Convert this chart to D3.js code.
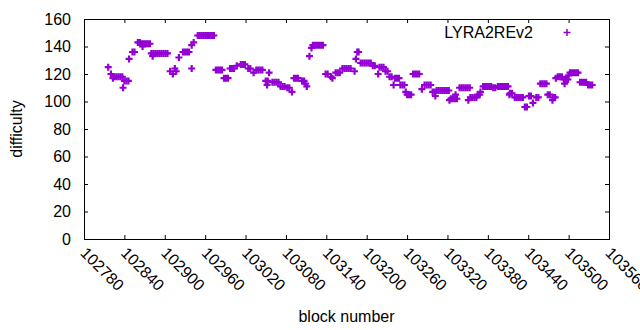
<!DOCTYPE html>
<html>
<head>
<meta charset="utf-8">
<script src="https://d3js.org/d3.v7.min.js"></script>
<style>
  body { margin: 0; background: #fff; }
  text { font-family: "Liberation Sans", Arial, sans-serif; font-size: 16px; fill: #000; }
</style>
</head>
<body>
<div id="my_dataviz"></div>
<script>

// block numbers and difficulty
var blocks = [
  102816, 102820, 102823, 102825, 102828, 102831, 102834, 102837, 102838, 102840,
  102843, 102846, 102847, 102852, 102855, 102860, 102863, 102866, 102867, 102869,
  102872, 102875, 102878, 102880, 102882, 102883, 102886, 102889, 102892, 102895,
  102898, 102901, 102904, 102908, 102912, 102915, 102917, 102921, 102927, 102930,
  102933, 102936, 102940, 102940, 102943, 102949, 102952, 102955, 102958, 102961,
  102964, 102967, 102970, 102973, 102976, 102979, 102982, 102985, 102988, 102991,
  102994, 102997, 103000, 103003, 103007, 103013, 103016, 103019, 103024, 103027,
  103032, 103036, 103039, 103042, 103045, 103050, 103052, 103053, 103055, 103060,
  103063, 103066, 103069, 103072, 103075, 103078, 103082, 103085, 103089, 103092,
  103095, 103098, 103104, 103107, 103109, 103111, 103115, 103118, 103120, 103123,
  103126, 103129, 103132, 103135, 103139, 103142, 103147, 103149, 103154, 103157,
  103160, 103164, 103167, 103170, 103173, 103176, 103182, 103184, 103186, 103188,
  103191, 103194, 103197, 103200, 103203, 103206, 103209, 103212, 103217, 103219,
  103222, 103225, 103228, 103231, 103234, 103237, 103240, 103242, 103245, 103248,
  103250, 103253, 103256, 103258, 103260, 103263, 103266, 103269, 103272, 103275,
  103278, 103282, 103286, 103289, 103292, 103295, 103298, 103301, 103302, 103304,
  103307, 103310, 103313, 103316, 103319, 103322, 103323, 103325, 103328, 103331,
  103332, 103334, 103338, 103341, 103344, 103347, 103350, 103351, 103353, 103354,
  103357, 103360, 103363, 103365, 103368, 103369, 103373, 103376, 103379, 103382,
  103385, 103388, 103391, 103395, 103398, 103401, 103404, 103407, 103410, 103412,
  103413, 103416, 103420, 103423, 103426, 103429, 103432, 103435, 103438, 103441,
  103444, 103447, 103452, 103455, 103458, 103461, 103464, 103467, 103469, 103472,
  103476, 103477, 103480, 103481, 103484, 103487, 103490, 103493, 103494, 103496,
  103499, 103500, 103502, 103505, 103508, 103511, 103514, 103517, 103520, 103523,
  103526, 103529, 103532, 103535
];
var difficulty = [
  125, 120, 117, 118, 118, 118, 118, 118, 110, 115,
  115, 115, 131, 136, 136, 143, 143, 142, 140, 142,
  142, 142, 142, 135, 133, 135, 135, 135, 135, 135,
  135, 135, 135, 122, 120, 124, 122, 132, 136, 136,
  136, 136, 124, 141, 143, 148, 148, 148, 148, 148,
  148, 148, 148, 148, 123, 123, 123, 123, 117, 117,
  117, 124, 124, 124, 126, 127, 127, 127, 124, 124,
  121, 123, 123, 123, 123, 115, 112, 115, 121, 114,
  114, 114, 114, 111, 111, 111, 110, 110, 107, 117,
  117, 117, 115, 115, 113, 111, 133, 139, 141, 141,
  141, 141, 141, 141, 120, 120, 118, 117, 121, 121,
  121, 124, 124, 124, 124, 124, 122, 131, 136, 136,
  128, 128, 128, 128, 128, 128, 126, 126, 120, 125,
  125, 125, 122, 122, 118, 118, 112, 117, 117, 117,
  112, 112, 112, 107, 105, 105, 105, 120, 120, 120,
  120, 109, 112, 112, 112, 112, 107, 107, 104, 108,
  108, 108, 108, 108, 108, 108, 101, 102, 102, 102,
  105, 102, 110, 110, 110, 110, 110, 101, 110, 103,
  103, 103, 103, 105, 105, 107, 111, 111, 111, 111,
  111, 110, 110, 111, 111, 111, 111, 111, 111, 105,
  106, 106, 103, 103, 103, 103, 103, 96, 96, 104,
  104, 99, 103, 103, 113, 113, 113, 113, 105, 105,
  101, 103, 103, 117, 118, 118, 118, 116, 113, 116,
  116, 119, 121, 121, 121, 121, 121, 114, 114, 114,
  114, 112, 112, 112
];
var xTicks = [102780, 102840, 102900, 102960, 103020, 103080, 103140,
              103200, 103260, 103320, 103380, 103440, 103500, 103560];
var yTicks = [0, 20, 40, 60, 80, 100, 120, 140, 160];
var seriesName = "LYRA2REv2";

var W = 640, H = 330;
var margin = {top: 19, right: 31, bottom: 91, left: 84},
    width = W - margin.left - margin.right,
    height = H - margin.top - margin.bottom;
var purple = "#9400d3";
var tickLen = 4;

var svg = d3.select("#my_dataviz")
  .append("svg")
    .attr("width", W)
    .attr("height", H);
var g = svg.append("g")
    .attr("transform", "translate(" + margin.left + "," + margin.top + ")");

var x = d3.scaleLinear().domain([102780, 103560]).range([0, width]);
var y = d3.scaleLinear().domain([0, 160]).range([height, 0]);

// gnuplot style: ticks point inwards, mirrored on top/right
var xAxis = g.append("g")
  .attr("transform", "translate(0," + height + ")")
  .call(d3.axisBottom(x).tickValues(xTicks).tickSize(-tickLen).tickFormat(d3.format("d")));
xAxis.selectAll("text")
  .attr("text-anchor", "start")
  .attr("dy", null).attr("y", null)
  .attr("transform", "translate(-5,15) rotate(45)");

g.append("g")
  .call(d3.axisTop(x).tickValues(xTicks).tickSize(-tickLen).tickFormat(""));

g.append("g")
  .call(d3.axisLeft(y).tickValues(yTicks).tickSize(-tickLen).tickPadding(13));

g.append("g")
  .attr("transform", "translate(" + width + ",0)")
  .call(d3.axisRight(y).tickValues(yTicks).tickSize(-tickLen).tickFormat(""));

g.selectAll(".domain").remove();
g.selectAll(".tick line").attr("stroke", "#000");
g.selectAll(".tick text").style("font-size", "16px").attr("fill", "#000");

// frame
g.append("rect")
  .attr("x", 0.5).attr("y", 0.5)
  .attr("width", width).attr("height", height)
  .attr("fill", "none").attr("stroke", "#000");

// points as "+"
var plus = "M-3.5,0H3.5M0,-3.5V3.5";
g.append("g")
  .selectAll("path")
  .data(blocks)
  .enter()
  .append("path")
    .attr("d", plus)
    .attr("transform", function (d, i) { return "translate(" + x(d) + "," + y(difficulty[i]) + ")"; })
    .attr("stroke", purple)
    .attr("stroke-width", 2.2)
    .attr("fill", "none");

// legend
svg.append("text")
  .attr("x", 533).attr("y", 38)
  .attr("text-anchor", "end")
  .text(seriesName);
svg.append("path")
  .attr("d", plus)
  .attr("transform", "translate(567,32.5)")
  .attr("stroke", purple)
  .attr("stroke-width", 1.5);

// axis titles
svg.append("text")
  .attr("x", margin.left + width / 2)
  .attr("y", 322)
  .attr("text-anchor", "middle")
  .text("block number");

svg.append("text")
  .attr("transform", "translate(22," + (margin.top + height / 2) + ") rotate(-90)")
  .attr("text-anchor", "middle")
  .text("difficulty");

</script>
</body>
</html>
